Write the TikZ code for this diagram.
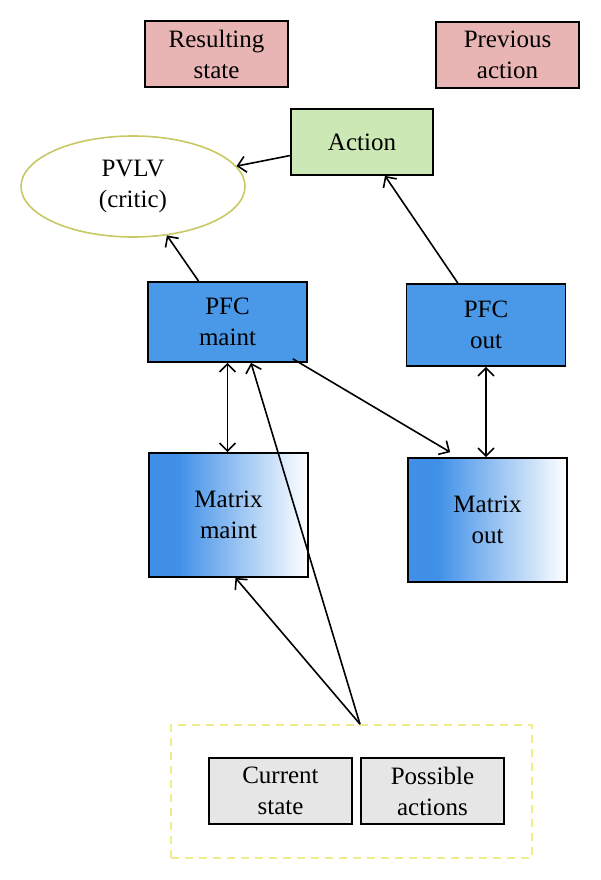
\documentclass[tikz,border=0pt]{standalone}
\usepackage{fontspec}
\setmainfont{Liberation Serif}
\usetikzlibrary{shapes.geometric}
\usetikzlibrary{calc}
\usetikzlibrary{arrows.meta}
\usepackage{xcolor}

\definecolor{pinkfill}{RGB}{232,180,180}
\definecolor{greenfill}{RGB}{204,232,180}
\definecolor{pfcblue}{RGB}{74,152,232}
\definecolor{mtxblue}{RGB}{64,144,232}
\definecolor{grayfill}{RGB}{230,230,230}
\definecolor{criticline}{RGB}{200,200,100}
\definecolor{dashyellow}{RGB}{240,236,140}

\pgfdeclarehorizontalshading{mtxshade}{100bp}{color(0bp)=(mtxblue); color(25bp)=(mtxblue); color(34bp)=(mtxblue); color(75bp)=(white); color(100bp)=(white)}

\begin{document}
\begin{tikzpicture}[x=1pt, y=-1pt]
        % ================= 样式定义 =================
        \tikzset{
            % 普通方框
            box/.style={rectangle, draw=black, line width=1.7pt, inner sep=0pt, align=center, font=\fontsize{25}{31}\selectfont},
            % 上方红色框
            redbox/.style={box, fill=pinkfill, minimum width=143pt, minimum height=66pt},
            % 动作框 (绿色)
            actbox/.style={box, fill=greenfill, minimum width=142pt, minimum height=66pt},
            % PFC 框 (蓝色)
            pfcbox/.style={box, fill=pfcblue, minimum width=159pt},
            % Matrix 框 (渐变)
            mtxbox/.style={box, shading=mtxshade, minimum width=159pt, minimum height=124pt},
            % 输入框 (灰色)
            graybox/.style={box, fill=grayfill, minimum width=143pt, minimum height=66pt},
            % 评价者椭圆
            criticnode/.style={ellipse, draw=criticline, line width=1.6pt, fill=white, inner sep=0pt, align=center, minimum width=224pt, minimum height=101pt, font=\fontsize{25}{31}\selectfont},
            % 黄色虚线外框
            inbox/.style={rectangle, draw=dashyellow, line width=1.7pt, dash pattern=on 8pt off 6pt, minimum width=361pt, minimum height=133pt},
            % 箭头
            arr/.style={line width=1.6pt, -{Straight Barb[length=8pt,width=16pt]}},
            dbl/.style={line width=1.6pt, {Straight Barb[length=8pt,width=16pt]}-{Straight Barb[length=8pt,width=16pt]}}
        }

        \useasboundingbox (0,0) rectangle (600,880);

        % ================= 上方:状态与动作 =================
        \node[redbox] (rs) at (216.5,54) {Resulting\\state};
        \node[redbox] (pa) at (507.5,55) {Previous\\action};
        \node[actbox] (act) at (362,142) {Action};
        \node[criticnode] (pvlv) at (133,186.5) {PVLV\\(critic)};

        % ================= 中间:PFC 与 Matrix =================
        \node[pfcbox, minimum height=80pt] (pfcm) at (227.5,322) {PFC\\maint};
        \node[pfcbox, minimum height=82pt] (pfco) at (486,325) {PFC\\out};
        \node[mtxbox] (mtxm) at (228.5,515) {Matrix\\maint};
        \node[mtxbox] (mtxo) at (487.5,520) {Matrix\\out};

        % ================= 下方:输入 =================
        \node[inbox] (inp) at (351.5,791.5) {};
        \node[graybox] (cs) at (280.5,791) {Current\\state};
        \node[graybox] (pact) at (432.5,791) {Possible\\actions};

        % 1. 通向 PVLV 与 Action 的箭头
        \draw[arr] ($(act.north west)!0.7!(act.south west)$) -- (pvlv);
        \draw[arr] ($(pfcm.north west)!0.32!(pfcm.north east)$) -- (pvlv);
        \draw[arr] ($(pfco.north west)!0.325!(pfco.north east)$) -- (act);

        % 2. PFC <-> Matrix (双向)
        \draw[dbl] (pfcm.south) -- (pfcm.south |- mtxm.north);
        \draw[dbl] (pfco.south) -- (pfco.south |- mtxo.north);

        % 3. PFC maint -> Matrix out
        \draw[arr] ($(pfcm.south east)+(-15,-4)$) -- ($(mtxo.north west)+(43,-5)$);

        % 4. 输入 -> PFC maint / Matrix maint
        \coordinate (src) at ($(inp.north)+(8.5,0)$);
        \draw[arr] (src) -- ($(pfcm.south)+(23.5,0)$);
        \draw[arr] (src) -- ($(mtxm.south)+(7,0)$);

    \end{tikzpicture}
\end{document}
